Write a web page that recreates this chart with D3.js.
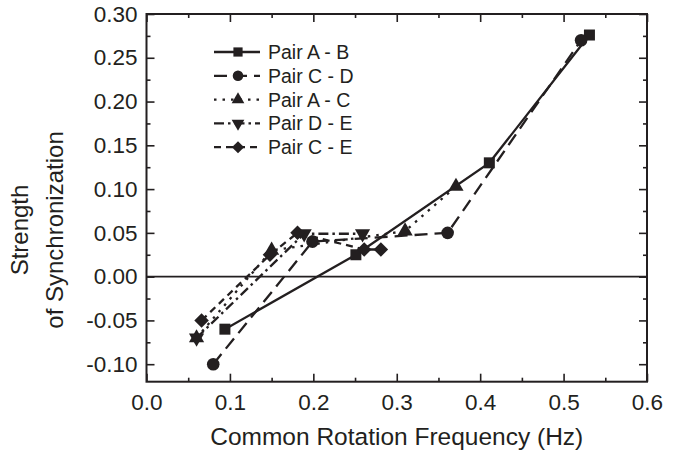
<!DOCTYPE html>
<html>
<head>
<meta charset="utf-8">
<title>Strength of Synchronization</title>
<script src="https://d3js.org/d3.v7.min.js"></script>
<style>
  body { margin: 0; background: #fff; }
  text { font-family: "Liberation Sans", Arial, sans-serif; fill: #231f20; }
</style>
</head>
<body>
<svg id="chart" width="693" height="455"></svg>
<script>
// data
const seriesNames = ["Pair A - B", "Pair C - D", "Pair A - C", "Pair D - E", "Pair C - E"];
const abX = [0.094, 0.251, 0.411, 0.531];
const abY = [-0.06, 0.025, 0.13, 0.276];
const cdX = [0.080, 0.199, 0.361, 0.521];
const cdY = [-0.10, 0.04, 0.05, 0.27];
const acX = [0.060, 0.150, 0.310, 0.371];
const acY = [-0.07, 0.03, 0.052, 0.103];
const deX = [0.060, 0.189, 0.259];
const deY = [-0.07, 0.049, 0.049];
const ceX = [0.066, 0.148, 0.181, 0.261, 0.281];
const ceY = [-0.05, 0.025, 0.05, 0.031, 0.031];
const xTicks = [0, 0.1, 0.2, 0.3, 0.4, 0.5, 0.6];
const yTicks = [-0.10, -0.05, 0, 0.05, 0.10, 0.15, 0.20, 0.25, 0.30];

const ink = "#231f20";
const svg = d3.select("#chart");
const pl = 146.5, pr = 647, pt = 14, pb = 381.7;

const x = d3.scaleLinear().domain([0, 0.6]).range([pl, pr]);
const y = d3.scaleLinear().domain([-0.12, 0.30]).range([pb, pt]);

const xMinor = [0.05, 0.15, 0.25, 0.35, 0.45, 0.55];
const yMinor = [-0.075, -0.025, 0.025, 0.075, 0.125, 0.175, 0.225, 0.275];

// plain hyphen for negatives, like the original
const loc = d3.formatLocale({ decimal: ".", thousands: ",", grouping: [3], currency: ["", ""], minus: "-" });

function styleAxis(g) {
  g.select(".domain").remove();
  g.selectAll("line").attr("stroke", ink).attr("stroke-width", 1.6);
  g.selectAll("text").attr("font-size", 22.5).attr("fill", ink);
}

// bottom
svg.append("g").attr("transform", `translate(0,${pb})`)
  .call(d3.axisBottom(x).tickValues(xTicks).tickFormat(loc.format(".1f")).tickSize(-8).tickPadding(12))
  .call(styleAxis);
svg.append("g").attr("transform", `translate(0,${pb})`)
  .call(d3.axisBottom(x).tickValues(xMinor).tickFormat("").tickSize(-4))
  .call(styleAxis);
// top
svg.append("g").attr("transform", `translate(0,${pt})`)
  .call(d3.axisTop(x).tickValues(xTicks).tickFormat("").tickSize(-8))
  .call(styleAxis);
svg.append("g").attr("transform", `translate(0,${pt})`)
  .call(d3.axisTop(x).tickValues(xMinor).tickFormat("").tickSize(-4))
  .call(styleAxis);
// left
svg.append("g").attr("transform", `translate(${pl},0)`)
  .call(d3.axisLeft(y).tickValues(yTicks).tickFormat(loc.format(".2f")).tickSize(-8).tickPadding(9))
  .call(styleAxis);
svg.append("g").attr("transform", `translate(${pl},0)`)
  .call(d3.axisLeft(y).tickValues(yMinor).tickFormat("").tickSize(-4))
  .call(styleAxis);
// right
svg.append("g").attr("transform", `translate(${pr},0)`)
  .call(d3.axisRight(y).tickValues(yTicks).tickFormat("").tickSize(-8))
  .call(styleAxis);
svg.append("g").attr("transform", `translate(${pr},0)`)
  .call(d3.axisRight(y).tickValues(yMinor).tickFormat("").tickSize(-4))
  .call(styleAxis);

// frame
svg.append("rect")
  .attr("x", pl).attr("y", pt)
  .attr("width", pr - pl).attr("height", pb - pt)
  .attr("fill", "none").attr("stroke", ink).attr("stroke-width", 2);

// zero line
svg.append("line")
  .attr("x1", pl).attr("x2", pr)
  .attr("y1", y(0)).attr("y2", y(0))
  .attr("stroke", ink).attr("stroke-width", 1.6);

// series (diamond = square turned 45deg)
const series = [
  { xs: abX, ys: abY, dash: null, sym: d3.symbolSquare, size: 121, rot: 0 },
  { xs: cdX, ys: cdY, dash: "13,7", sym: d3.symbolCircle, size: 125, rot: 0 },
  { xs: acX, ys: acY, dash: "2.5,6", sym: d3.symbolTriangle, size: 100, rot: 0 },
  { xs: deX, ys: deY, dash: "10,4,2.5,4", sym: d3.symbolTriangle, size: 100, rot: 180 },
  { xs: ceX, ys: ceY, dash: "7,5", sym: d3.symbolSquare, size: 105, rot: 45 }
];

const line = d3.line().x(d => x(d[0])).y(d => y(d[1]));

series.forEach(s => {
  const pts = s.xs.map((v, i) => [v, s.ys[i]]);
  svg.append("path")
    .attr("d", line(pts))
    .attr("fill", "none")
    .attr("stroke", ink)
    .attr("stroke-width", 2.3)
    .attr("stroke-dasharray", s.dash);
  svg.selectAll(null).data(pts).enter().append("path")
    .attr("d", d3.symbol().type(s.sym).size(s.size))
    .attr("transform", d => `translate(${x(d[0])},${y(d[1])}) rotate(${s.rot})`)
    .attr("fill", ink);
});

// legend
const legend = svg.append("g");
seriesNames.forEach((name, i) => {
  const s = series[i];
  const cy = 52 + i * 23.8;
  legend.append("line")
    .attr("x1", 214).attr("x2", 260).attr("y1", cy).attr("y2", cy)
    .attr("stroke", ink).attr("stroke-width", 2.3)
    .attr("stroke-dasharray", s.dash);
  legend.append("path")
    .attr("d", d3.symbol().type(s.sym).size(s.size * 0.7))
    .attr("transform", `translate(238,${cy}) rotate(${s.rot})`)
    .attr("fill", ink);
  legend.append("text")
    .attr("x", 268).attr("y", cy).attr("dy", "0.36em")
    .attr("font-size", 19.5)
    .text(name);
});

// axis titles
svg.append("text")
  .attr("x", (pl + pr) / 2).attr("y", 445)
  .attr("text-anchor", "middle").attr("font-size", 24.5)
  .text("Common Rotation Frequency (Hz)");

const yt = svg.append("text")
  .attr("transform", "translate(0,230) rotate(-90)")
  .attr("text-anchor", "middle").attr("font-size", 24);
yt.append("tspan").attr("x", 0).attr("y", 28).text("Strength");
yt.append("tspan").attr("x", 0).attr("y", 63).text("of Synchronization");
</script>
</body>
</html>
